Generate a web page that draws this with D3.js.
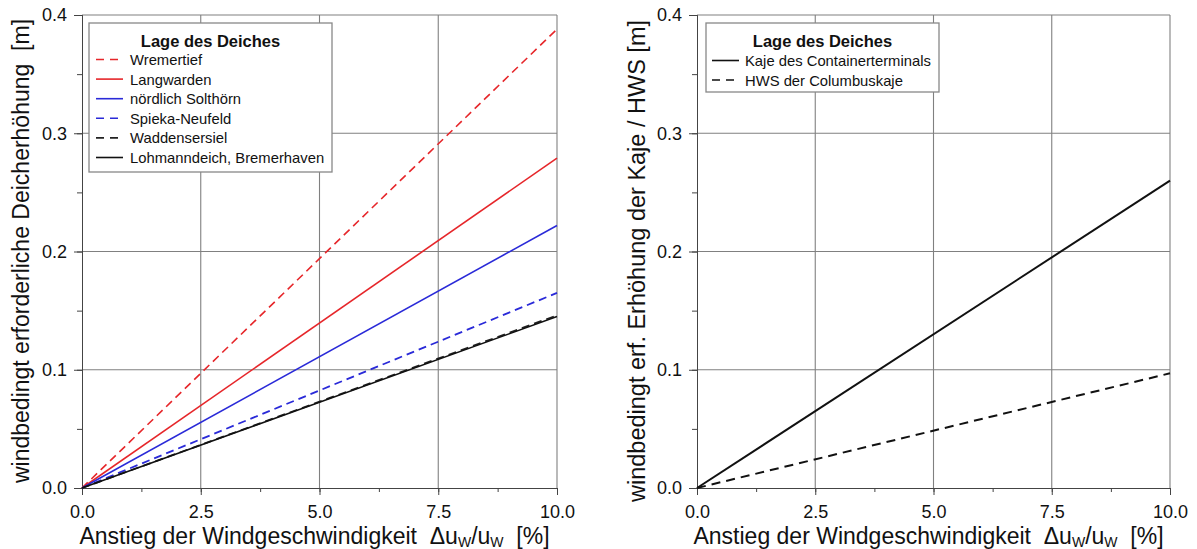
<!DOCTYPE html>
<html><head><meta charset="utf-8">
<script src="https://cdn.jsdelivr.net/npm/d3@7"></script>
<style>
body{margin:0;background:#fff;}
svg text{font-family:"Liberation Sans",Arial,sans-serif;fill:#111;}
</style></head>
<body>
<svg id="c" width="1197" height="549"></svg>
<script>
// ---- data ----
const xValues = [0, 10];
const leftSeriesNames = ["Wremertief","Langwarden","nördlich Solthörn","Spieka-Neufeld","Waddensersiel","Lohmanndeich, Bremerhaven"];
const leftSeriesValues = [
  [0, 0.388],
  [0, 0.279],
  [0, 0.222],
  [0, 0.165],
  [0, 0.146],
  [0, 0.145]
];
const rightSeriesNames = ["Kaje des Containerterminals","HWS der Columbuskaje"];
const rightSeriesValues = [
  [0, 0.260],
  [0, 0.097]
];
const xTicks = [0, 2.5, 5, 7.5, 10];
const yTicks = [0, 0.1, 0.2, 0.3, 0.4];
const legendTitle = "Lage des Deiches";
const leftYTitle = "windbedingt erforderliche Deicherhöhung\u00a0\u00a0[m]";
const rightYTitle = "windbedingt erf. Erhöhung der Kaje / HWS [m]";

// styles (kept separate from data)
const leftStyles = [
  {c:"#e6262a", d:"8,5", w:1.6},
  {c:"#e6262a", d:null, w:1.6},
  {c:"#2a2ad8", d:null, w:1.6},
  {c:"#2a2ad8", d:"8,5", w:1.8},
  {c:"#222", d:"8,5", w:1.8},
  {c:"#111", d:null, w:1.6}
];
const rightStyles = [
  {c:"#111", d:null, w:2},
  {c:"#111", d:"9,6", w:2}
];

const svg = d3.select("#c");

function panel(x0, x1, names, values, styles, yTitle, yt, legend) {
  const top = 15, bottom = 488;
  const x = d3.scaleLinear().domain([0,10]).range([x0,x1]);
  const y = d3.scaleLinear().domain([0,0.4]).range([bottom,top]);
  const g = svg.append("g");

  // grid
  g.selectAll(".gx").data(xTicks.slice(1)).enter().append("line")
    .attr("x1",d=>x(d)).attr("x2",d=>x(d)).attr("y1",top).attr("y2",bottom)
    .attr("stroke","#808080").attr("stroke-width",1.1);
  g.selectAll(".gy").data(yTicks.slice(1)).enter().append("line")
    .attr("x1",x0).attr("x2",x1).attr("y1",d=>y(d)).attr("y2",d=>y(d))
    .attr("stroke","#808080").attr("stroke-width",1.1);

  // axes
  const xAxis = d3.axisBottom(x).tickValues(xTicks).tickFormat(d3.format(".1f")).tickSize(7).tickPadding(10);
  const xMinor = d3.axisBottom(x).tickValues(d3.range(0,10.01,1.25)).tickFormat("").tickSize(4);
  const yAxis = d3.axisLeft(y).tickValues(yTicks).tickFormat(d3.format(".1f")).tickSize(8).tickPadding(7);
  const yMinor = d3.axisLeft(y).tickValues(d3.range(0,0.401,0.05)).tickFormat("").tickSize(5);

  [xAxis, xMinor].forEach(a=>{
    const ax = g.append("g").attr("transform",`translate(0,${bottom})`).call(a);
    ax.select(".domain").attr("stroke","#444");
    ax.selectAll(".tick line").attr("stroke","#444");
    ax.selectAll("text").style("font-size","18px").attr("fill","#111");
  });
  [yAxis, yMinor].forEach(a=>{
    const ax = g.append("g").attr("transform",`translate(${x0},0)`).call(a);
    ax.select(".domain").attr("stroke","#444");
    ax.selectAll(".tick line").attr("stroke","#444");
    ax.selectAll("text").style("font-size","18px").attr("fill","#111");
  });

  // lines
  const line = d3.line().x((d,i)=>x(xValues[i])).y(d=>y(d));
  values.forEach((v,i)=>{
    g.append("path").datum(v).attr("d",line).attr("fill","none")
      .attr("stroke",styles[i].c).attr("stroke-width",styles[i].w)
      .attr("stroke-dasharray",styles[i].d);
  });

  // x title
  const xt = g.append("text").attr("x",(x0+x1)/2 - 5).attr("y",543.5)
    .attr("text-anchor","middle").style("font-size","23px");
  xt.append("tspan").text("Anstieg der Windgeschwindigkeit\u00a0\u00a0Δu");
  xt.append("tspan").text("W").style("font-size","14px").attr("dy",3);
  xt.append("tspan").text("/u").attr("dy",-3);
  xt.append("tspan").text("W").style("font-size","14px").attr("dy",3);
  xt.append("tspan").text("\u00a0\u00a0[%]").attr("dy",-3);

  // y title
  g.append("text").attr("transform",`translate(${yt.x},${yt.cy}) rotate(-90)`)
    .attr("text-anchor","middle").style("font-size",yt.size+"px").text(yTitle);

  // legend
  const lg = g.append("g");
  lg.append("rect").attr("x",legend.x).attr("y",legend.y).attr("width",legend.w).attr("height",legend.h)
    .attr("fill","#fff").attr("stroke","#888").attr("stroke-width",1.3);
  lg.append("text").attr("x",legend.x+legend.w/2).attr("y",legend.y+24)
    .attr("text-anchor","middle").style("font-size","16.5px").style("font-weight","bold").text(legendTitle);
  names.forEach((n,i)=>{
    const base = legend.y + legend.b0 + i*legend.step;
    const yy = base - 5.5;
    lg.append("line").attr("x1",legend.x+legend.lx).attr("x2",legend.x+legend.lx+27).attr("y1",yy).attr("y2",yy)
      .attr("stroke",styles[i].c).attr("stroke-width",1.6).attr("stroke-dasharray",styles[i].d ? "8,6" : null);
    lg.append("text").attr("x",legend.x+legend.tx).attr("y",base).style("font-size","14.8px").text(n);
  });
}

panel(82, 557, leftSeriesNames, leftSeriesValues, leftStyles, leftYTitle, {x:29, cy:251, size:23},
  {x:89, y:23, w:243, h:149, step:19.6, b0:42, lx:7, tx:41});
panel(697, 1170, rightSeriesNames, rightSeriesValues, rightStyles, rightYTitle, {x:645, cy:261, size:23.5},
  {x:706, y:23, w:233, h:69, step:19.5, b0:43, lx:6, tx:39});
</script>
</body></html>
